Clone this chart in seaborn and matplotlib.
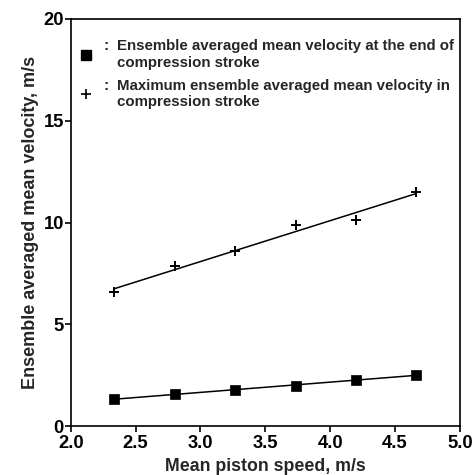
import numpy as np
import pandas as pd
import matplotlib
matplotlib.use("Agg")
import matplotlib.pyplot as plt
import seaborn as sns
from matplotlib.lines import Line2D

# Data
piston_speed = [2.33, 2.80, 3.27, 3.74, 4.20, 4.66]
vel_end = [1.33, 1.57, 1.78, 1.98, 2.26, 2.52]
vel_max = [6.57, 7.85, 8.61, 9.86, 10.12, 11.51]
x_ticks = [2.0, 2.5, 3.0, 3.5, 4.0, 4.5, 5.0]
y_ticks = [0, 5, 10, 15, 20]
label_end = "Ensemble averaged mean velocity at the end of\ncompression stroke"
label_max = "Maximum ensemble averaged mean velocity in\ncompression stroke"

sns.set_style("ticks")
plt.rcParams['font.family'] = ['Liberation Sans', 'DejaVu Sans']

fig = plt.figure(figsize=(4.75, 4.75), dpi=100)
ax = fig.add_axes([0.149, 0.103, 0.819, 0.857])

df = pd.DataFrame({"x": piston_speed, "end": vel_end, "max": vel_max})
for col in ["end", "max"]:
    coef = np.polyfit(df["x"], df[col], 1)
    df[col + "_fit"] = np.polyval(coef, df["x"])
    sns.lineplot(data=df, x="x", y=col + "_fit", ax=ax, color="black", lw=1.1)

sns.scatterplot(data=df, x="x", y="end", ax=ax, marker="s", s=45, color="black",
                edgecolor="black", linewidth=0.5, zorder=3)
sns.scatterplot(data=df, x="x", y="max", ax=ax, marker="+", s=55, color="black",
                linewidth=1.4, zorder=3)

ax.set_xlim(2.0, 5.0)
ax.set_ylim(0, 20)
ax.set_xticks(x_ticks)
ax.set_yticks(y_ticks)
ax.set_xticklabels([f"{t:.1f}" for t in x_ticks], fontsize=13.2, fontweight="bold")
ax.set_yticklabels([str(t) for t in y_ticks], fontsize=13.2, fontweight="bold")
ax.set_xlabel("Mean piston speed, m/s", fontsize=12.8, fontweight="bold", labelpad=4)
ax.set_ylabel("Ensemble averaged mean velocity, m/s", fontsize=13, fontweight="bold", labelpad=3)
for s in ax.spines.values():
    s.set_linewidth(1.2)
    s.set_color("black")
ax.tick_params(direction="out", length=4, width=1.2, colors="black", pad=1)
ax.tick_params(axis="x", length=4, pad=2.5)

handles = [Line2D([], [], ls="none", marker="s", color="black", ms=6.5),
           Line2D([], [], ls="none", marker="+", color="black", ms=7, mew=1.2)]
leg = ax.legend(handles, [label_end, label_max], loc="upper left", frameon=False,
                fontsize=10.8, handlelength=0.7, handletextpad=1.75, labelspacing=0.62,
                borderaxespad=0.0, borderpad=0.0, bbox_to_anchor=(0.025, 0.95))
for t in leg.get_texts():
    t.set_fontweight("bold")

# colon separators between legend keys and texts
fig.canvas.draw()
renderer = fig.canvas.get_renderer()
for t in leg.get_texts():
    bb = t.get_window_extent(renderer)
    fig.text(bb.x0 - 14, bb.y1, ":", transform=None, fontsize=10.8, fontweight="bold",
             ha="left", va="top")

fig.savefig("out.png", dpi=100)
